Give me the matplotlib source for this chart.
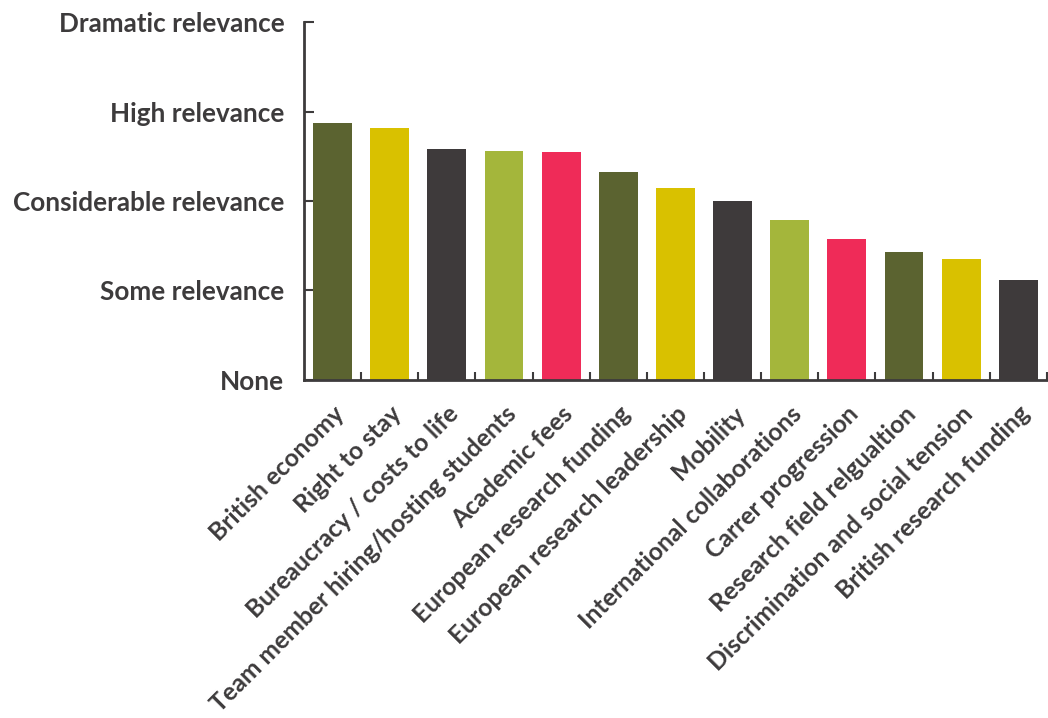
import numpy as np
import matplotlib
matplotlib.use('Agg')
import matplotlib.pyplot as plt

categories = ['British economy', 'Right to stay', 'Bureaucracy / costs to life',
              'Team member hiring/hosting students', 'Academic fees',
              'European research funding', 'European research leadership',
              'Mobility', 'International collaborations', 'Carrer progression',
              'Research field relgualtion', 'Discrimination and social tension',
              'British research funding']
relevance = [2.87, 2.82, 2.58, 2.56, 2.55, 2.33, 2.15, 2.0, 1.79, 1.58, 1.43, 1.35, 1.12]
levels = ['None', 'Some relevance', 'Considerable relevance', 'High relevance',
          'Dramatic relevance']
palette = ['#5b6330', '#d9c100', '#3e3a3b', '#a4b63b', '#ef2b58']

TXT = '#3d3b3c'
plt.rcParams['font.family'] = ['Lato', 'DejaVu Sans']


def main():
    fig = plt.figure(figsize=(10.48, 7.18), dpi=100)
    ax = fig.add_axes([0.29, 0.471, 0.709, 0.498])

    x = np.arange(len(categories))
    colors = [palette[i % len(palette)] for i in x]
    ax.bar(x, relevance, width=0.68, color=colors, zorder=2)

    ax.set_xlim(-0.5, len(categories) - 0.5)
    ax.set_ylim(0, 4)
    for s in ('top', 'right'):
        ax.spines[s].set_visible(False)
    for s in ('left', 'bottom'):
        ax.spines[s].set_color(TXT)
        ax.spines[s].set_linewidth(2)

    ax.set_yticks(range(len(levels)))
    ax.set_yticklabels(levels, fontsize=18.8, fontweight='bold', color=TXT)
    ax.tick_params(axis='y', direction='in', length=7, width=1.5, color=TXT, pad=14)

    # minor ticks sit between the bars, labels on the major ones
    ax.set_xticks(x + 0.5, minor=True)
    ax.set_xticks(x)
    ax.set_xticklabels(categories, rotation=45, ha='right', rotation_mode='anchor',
                       fontsize=17.8, fontweight='bold', color=TXT)
    ax.tick_params(axis='x', which='major', length=0, pad=16)
    ax.tick_params(axis='x', which='minor', direction='in', length=6, width=1.5, color=TXT)

    fig.savefig('out.png', dpi=100)


if __name__ == '__main__':
    main()
